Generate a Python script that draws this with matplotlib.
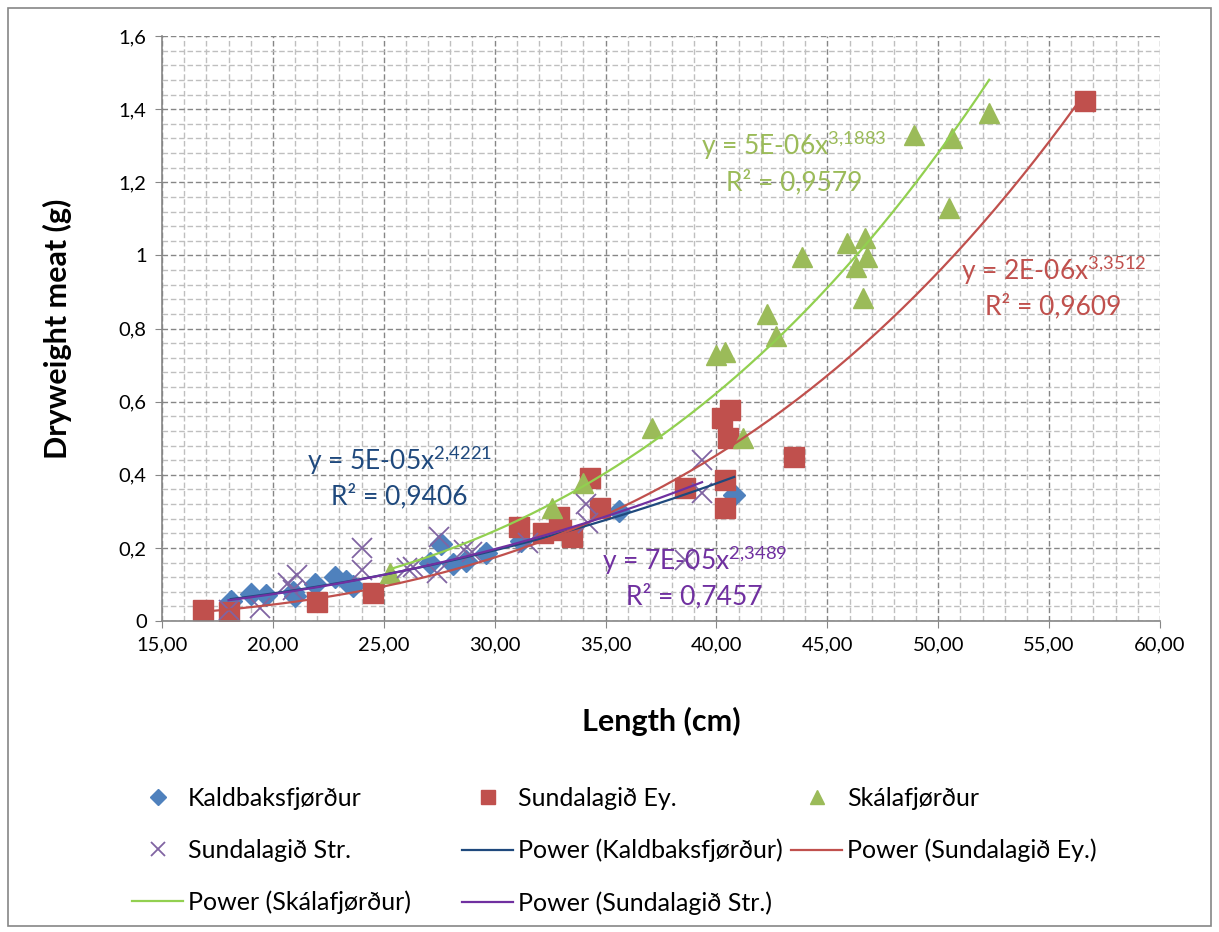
import matplotlib.pyplot as plt
from matplotlib.patches import Rectangle
from matplotlib.ticker import MultipleLocator, FuncFormatter
import numpy as np

plt.rcParams['font.family'] = ['Lato', 'DejaVu Sans']
plt.rcParams['mathtext.fontset'] = 'custom'
plt.rcParams['mathtext.rm'] = 'Lato'

# Kaldbaksfjørður
kald_x = [18.1, 19.0, 19.7, 20.9, 21.0, 21.9, 22.8, 23.3, 23.6, 27.1, 27.6, 28.1, 28.7, 29.6, 31.2, 35.6, 40.8]
kald_y = [0.055, 0.075, 0.072, 0.08, 0.068, 0.10, 0.12, 0.11, 0.095, 0.16, 0.21, 0.155, 0.165, 0.185, 0.22, 0.30, 0.345]

# Sundalagið Ey.
ey_x = [16.85, 18.0, 22.0, 24.5, 31.1, 32.2, 32.9, 33.0, 33.5, 34.3, 34.75, 38.6, 40.25, 40.6, 40.5, 40.4, 40.4, 43.5, 56.6]
ey_y = [0.03, 0.025, 0.052, 0.077, 0.257, 0.24, 0.285, 0.25, 0.23, 0.39, 0.31, 0.364, 0.555, 0.577, 0.50, 0.386, 0.31, 0.449, 1.422]

# Skálafjørður
ska_x = [25.3, 32.6, 34.0, 37.1, 40.0, 40.4, 41.2, 42.3, 42.7, 43.85, 45.9, 46.7, 46.8, 46.3, 46.6, 48.9, 50.6, 50.5, 52.3]
ska_y = [0.13, 0.31, 0.378, 0.528, 0.728, 0.736, 0.50, 0.84, 0.78, 0.995, 1.034, 1.047, 0.996, 0.968, 0.883, 1.33, 1.32, 1.13, 1.39]

# Sundalagið Str.
str_x = [18.0, 19.4, 20.7, 21.1, 20.9, 24.0, 24.0, 26.05, 26.3, 27.5, 27.4, 28.6, 29.0, 31.5, 34.1, 34.2, 38.6, 39.35, 39.35]
str_y = [0.03, 0.035, 0.105, 0.125, 0.085, 0.2, 0.14, 0.145, 0.148, 0.23, 0.13, 0.194, 0.19, 0.213, 0.32, 0.268, 0.167, 0.44, 0.35]

y_ticks = [0, 0.2, 0.4, 0.6, 0.8, 1.0, 1.2, 1.4, 1.6]


def power_fit(x, y):
    a, b = np.polyfit(np.log(x), np.log(y), 1)
    xs = np.linspace(min(x), max(x), 200)
    return xs, np.exp(b) * xs ** a


fig = plt.figure(figsize=(12.19, 9.32), dpi=100)
ax = fig.add_axes([162 / 1219, 1 - 621 / 932, (1160 - 162) / 1219, (621 - 36) / 932])

h1, = ax.plot(kald_x, kald_y, 'D', color='#4F81BD', markersize=11, linestyle='none', label='Kaldbaksfjørður')
h2, = ax.plot(ey_x, ey_y, 's', color='#C0504D', markersize=14, linestyle='none', label='Sundalagið Ey.')
h3, = ax.plot(ska_x, ska_y, '^', color='#9BBB59', markersize=14, linestyle='none', label='Skálafjørður')
h4, = ax.plot(str_x, str_y, 'x', color='#8064A2', markersize=14, markeredgewidth=1.3, linestyle='none',
              label='Sundalagið Str.')

xs, ys = power_fit(kald_x, kald_y)
t1, = ax.plot(xs, ys, color='#1F497D', lw=1.6, label='Power (Kaldbaksfjørður)')
xs, ys = power_fit(ey_x, ey_y)
t2, = ax.plot(xs, ys, color='#C0504D', lw=1.6, label='Power (Sundalagið Ey.)')
xs, ys = power_fit(ska_x, ska_y)
t3, = ax.plot(xs, ys, color='#92D050', lw=1.6, label='Power (Skálafjørður)')
xs, ys = power_fit(str_x, str_y)
t4, = ax.plot(xs, ys, color='#7030A0', lw=1.6, label='Power (Sundalagið Str.)')

# trendline equations
eq_fs = 19
def eq_label(x, y, eq, r2, color):
    ax.text(x, y, eq, color=color, fontsize=eq_fs, ha='center', va='center', zorder=10)
    ax.text(x, y - 0.1, r2, color=color, fontsize=eq_fs, ha='center', va='center', zorder=10)

eq_label(25.7, 0.44, 'y = 5E-05x$^{2{,}4221}$', 'R² = 0,9406', '#1F497D')
eq_label(43.5, 1.30, 'y = 5E-06x$^{3{,}1883}$', 'R² = 0,9579', '#9BBB59')
eq_label(55.2, 0.96, 'y = 2E-06x$^{3{,}3512}$', 'R² = 0,9609', '#C0504D')
eq_label(39.0, 0.167, 'y = 7E-05x$^{2{,}3489}$', 'R² = 0,7457', '#7030A0')

ax.set_xlim(15, 60)
ax.set_ylim(0, 1.6)
ax.xaxis.set_major_locator(MultipleLocator(5))
ax.xaxis.set_minor_locator(MultipleLocator(1))
ax.set_yticks(y_ticks)
ax.yaxis.set_minor_locator(MultipleLocator(0.04))
ax.xaxis.set_major_formatter(FuncFormatter(lambda v, p: f'{v:.2f}'.replace('.', ',')))
ax.yaxis.set_major_formatter(FuncFormatter(lambda v, p: ('0' if v == 0 else f'{v:g}').replace('.', ',')))
ax.tick_params(which='major', labelsize=14.5, length=5, color='#868686', pad=6)
ax.tick_params(which='minor', length=0)
ax.grid(True, which='major', color='#868686', linestyle=(0, (4, 2)), lw=1.0)
ax.grid(True, which='minor', color='#BFBFBF', linestyle=(0, (4, 2)), lw=1.0)
ax.set_axisbelow(True)
for s in ['top', 'right']:
    ax.spines[s].set_visible(False)
for s in ['left', 'bottom']:
    ax.spines[s].set_color('#868686')
    ax.spines[s].set_linewidth(1.2)

ax.set_xlabel('Length (cm)', fontsize=22, fontweight='bold')
ax.set_ylabel('Dryweight meat (g)', fontsize=22, fontweight='bold')
ax.xaxis.set_label_coords(0.5, -(707 - 621) / 585)
ax.yaxis.set_label_coords(-(162 - 72) / 998, 0.5)

# legend: three fixed-width columns like Excel
columns = [[h1, h4, t3], [h2, t1, t4], [h3, t2]]
col_left = [132, 462, 791]
for hs, left in zip(columns, col_left):
    fig.legend(handles=hs, labels=[h.get_label() for h in hs], loc='upper left',
               bbox_to_anchor=(left / 1219, 1 - 787 / 932), frameon=False,
               fontsize=18, handlelength=2.05, handletextpad=0.2, labelspacing=1.15,
               borderaxespad=0, borderpad=0, markerscale=0.75)

fig.patches.append(Rectangle((8 / 1219, 6 / 932), 1 - 16 / 1219, 1 - 14 / 932, transform=fig.transFigure,
                             fill=False, edgecolor='#868686', lw=1.2))

fig.savefig('out.png', dpi=100)
